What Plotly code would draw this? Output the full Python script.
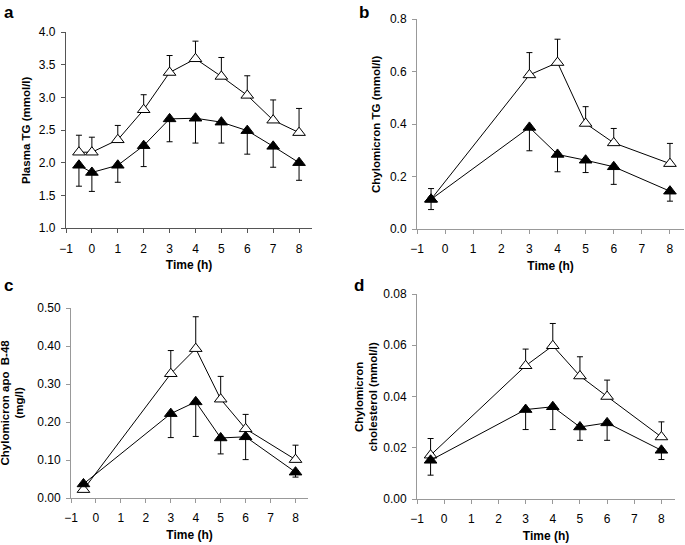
import plotly.graph_objects as go

# ---- data ----
x_a = [-0.5, 0, 1, 2, 3, 4, 5, 6, 7, 8]
a_open = [2.16, 2.16, 2.35, 2.81, 3.38, 3.59, 3.32, 3.03, 2.65, 2.46]
a_open_err = [0.26, 0.23, 0.22, 0.23, 0.26, 0.27, 0.29, 0.30, 0.31, 0.37]
a_fill = [1.96, 1.85, 1.96, 2.26, 2.67, 2.68, 2.62, 2.49, 2.25, 2.00]
a_fill_err = [0.32, 0.29, 0.26, 0.32, 0.35, 0.38, 0.32, 0.36, 0.32, 0.27]

x_b = [-0.5, 3, 4, 5, 6, 8]
b_open = [0.113, 0.587, 0.634, 0.402, 0.328, 0.249]
b_open_err = [0.041, 0.085, 0.089, 0.064, 0.055, 0.077]
b_fill = [0.113, 0.387, 0.284, 0.262, 0.237, 0.144]
b_fill_err = [0.039, 0.089, 0.066, 0.047, 0.067, 0.038]

x_c = [-0.5, 3, 4, 5, 6, 8]
c_open = [0.022, 0.327, 0.393, 0.260, 0.182, 0.101]
c_open_err = [0.0, 0.061, 0.084, 0.060, 0.038, 0.038]
c_fill = [0.037, 0.222, 0.253, 0.158, 0.161, 0.068]
c_fill_err = [0.0, 0.063, 0.091, 0.042, 0.060, 0.013]

x_d = [-0.5, 3, 4, 5, 6, 8]
d_open = [0.0171, 0.0520, 0.0598, 0.0480, 0.0400, 0.0242]
d_open_err = [0.0065, 0.0065, 0.0087, 0.0075, 0.0064, 0.0059]
d_fill = [0.0151, 0.0349, 0.0360, 0.0281, 0.0297, 0.0190]
d_fill_err = [0.0058, 0.0078, 0.0089, 0.0052, 0.0068, 0.0036]

x_ticks = [-1, 0, 1, 2, 3, 4, 5, 6, 7, 8]
x_ticklabels = ["\u22121", "0", "1", "2", "3", "4", "5", "6", "7", "8"]

panels = [
    dict(x=x_a, op=a_open, ope=a_open_err, fi=a_fill, fie=a_fill_err,
         yr=[1.0, 4.0], dt=0.5, fmt=".1f", title="Plasma TG (mmol/l)",
         dom_x=[66/685, 312/685], dom_y=[1-228/545, 1-32/545],
         letter="a", lx=2, ly=1, axcol="#555555", axw=1.4, tx=26),
    dict(x=x_b, op=b_open, ope=b_open_err, fi=b_fill, fie=b_fill_err,
         yr=[0.0, 0.8], dt=0.2, fmt=".1f", title="Chylomicron TG (mmol/l)",
         dom_x=[417/685, 684/685], dom_y=[1-229/545, 1-19/545],
         letter="b", lx=357, ly=1, axcol="#999999", axw=1, tx=376),
    dict(x=x_c, op=c_open, ope=c_open_err, fi=c_fill, fie=c_fill_err,
         yr=[0.0, 0.5], dt=0.1, fmt=".2f", title="Chylomicron apo  B-48<br>(mg/l)",
         dom_x=[71/685, 308/685], dom_y=[1-498/545, 1-308/545],
         letter="c", lx=2, ly=274, axcol="#999999", axw=1, tx=11.5),
    dict(x=x_d, op=d_open, ope=d_open_err, fi=d_fill, fie=d_fill_err,
         yr=[0.0, 0.08], dt=0.02, fmt=".2f", title="Chylomicron<br>cholesterol (mmol/l)",
         dom_x=[417/685, 675/685], dom_y=[1-499/545, 1-294/545],
         letter="d", lx=352, ly=274, axcol="#999999", axw=1, tx=366),
]

fig = go.Figure()
font = "Liberation Sans, Arial, sans-serif"

for i, p in enumerate(panels, start=1):
    xa = "x" if i == 1 else f"x{i}"
    ya = "y" if i == 1 else f"y{i}"
    n = len(p["x"])
    fig.add_trace(go.Scatter(
        x=p["x"], y=p["op"], mode="lines+markers", xaxis=xa, yaxis=ya,
        line=dict(color="black", width=1), cliponaxis=False,
        marker=dict(symbol="triangle-up", size=11, color="white",
                    line=dict(color="black", width=1)),
        error_y=dict(type="data", symmetric=False, array=p["ope"],
                     arrayminus=[0]*n, color="black", thickness=1, width=3),
        showlegend=False))
    fig.add_trace(go.Scatter(
        x=p["x"], y=p["fi"], mode="lines+markers", xaxis=xa, yaxis=ya,
        line=dict(color="black", width=1), cliponaxis=False,
        marker=dict(symbol="triangle-up", size=11, color="black",
                    line=dict(color="black", width=1)),
        error_y=dict(type="data", symmetric=False, array=[0]*n,
                     arrayminus=p["fie"], color="black", thickness=1, width=3),
        showlegend=False))
    ax_common = dict(showline=True, linecolor=p["axcol"], linewidth=p["axw"],
                     ticks="outside", ticklen=4, tickcolor=p["axcol"], tickwidth=p["axw"],
                     showgrid=False, zeroline=False, automargin=False,
                     tickfont=dict(family=font, size=12, color="black"))
    fig.layout[f"xaxis{'' if i == 1 else i}"] = dict(
        domain=p["dom_x"], anchor=ya, range=[-1, 8.5],
        tickvals=x_ticks, ticktext=x_ticklabels, ticklabelstandoff=5,
        title=dict(text="<b>Time (h)</b>", font=dict(family=font, size=12, color="black"),
                   standoff=6),
        **ax_common)
    fig.layout[f"yaxis{'' if i == 1 else i}"] = dict(
        domain=p["dom_y"], anchor=xa, range=p["yr"], dtick=p["dt"],
        tick0=p["yr"][0], tickformat=p["fmt"], ticklabelstandoff=3, **ax_common)
    # y title as annotation
    fig.add_annotation(
        text="<b>" + p["title"] + "</b>", xref="paper", yref="paper",
        x=p["tx"]/685, y=(p["dom_y"][0]+p["dom_y"][1])/2, textangle=-90,
        showarrow=False, font=dict(family=font, size=11.5, color="black"),
        xanchor="center", yanchor="middle")
    fig.add_annotation(
        text="<b>" + p["letter"] + "</b>", xref="paper", yref="paper",
        x=p["lx"]/685, y=1-p["ly"]/545, showarrow=False,
        xanchor="left", yanchor="top",
        font=dict(family=font, size=17, color="black"))

fig.update_layout(width=685, height=545, margin=dict(l=0, r=0, t=0, b=0),
                  plot_bgcolor="white", paper_bgcolor="white")

fig.write_html("out.html", config={"displayModeBar": False},
               post_script="document.body.style.margin='0';document.body.style.overflow='hidden';")
